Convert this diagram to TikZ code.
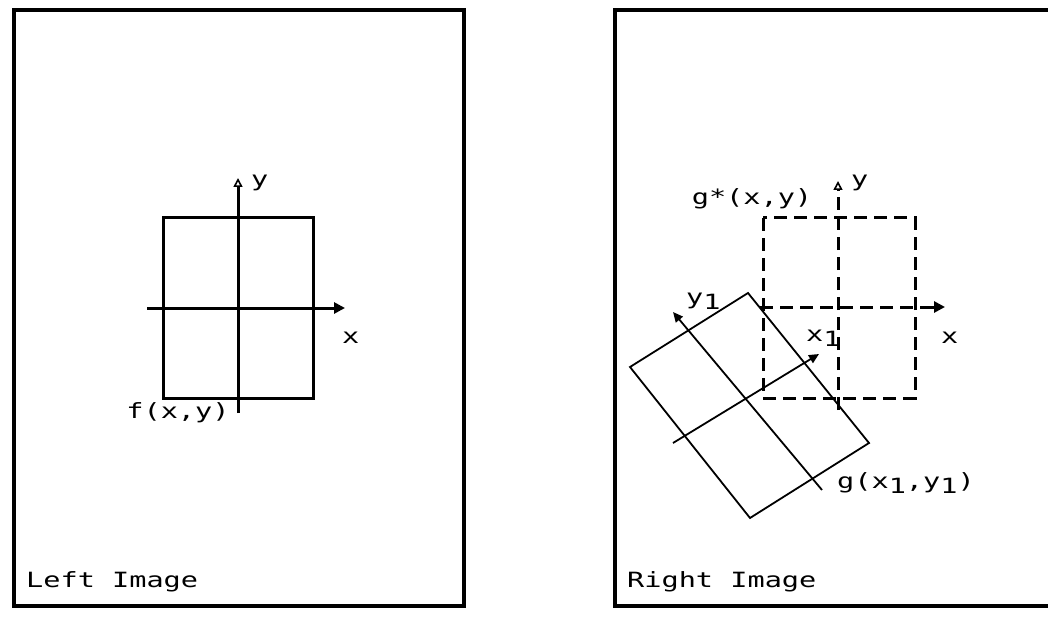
\documentclass[tikz,border=0pt]{standalone}
\usepackage{fontspec}
\newfontfamily\pix[FakeStretch=1.36]{DejaVu Sans Mono}
\usetikzlibrary{arrows.meta}
\newcommand\lowsub[1]{\raisebox{-5pt}{#1}}
\begin{document}
\begin{tikzpicture}[x=1pt,y=-1pt,
  frame/.style={line width=3.5pt},
  solidline/.style={line width=3pt},
  dashline/.style={line width=3pt, dash pattern=on 13pt off 7pt},
  thinline/.style={line width=1.8pt},
  xarrow/.style={-{Triangle[length=11pt,width=11pt]}},
  yarrow/.style={-{Triangle[open,length=9pt,width=9pt,line width=1.6pt]}},
  rarrow/.style={-{Triangle[length=10pt,width=9pt]}},
  lbl/.style={font=\pix\fontsize{21}{21}\selectfont, inner sep=0pt}]
\useasboundingbox (0,0) rectangle (1048,636);
\begin{scope}
\clip (0,0) rectangle (1048,636);
% frames
\draw[frame] (14,10) rectangle (464,606);
\draw[frame] (615,10) rectangle (1070,606);
\node[lbl, anchor=base west] (ltitle) at (26,587) {Left Image};
\node[lbl, anchor=base west] (rtitle) at (627,587) {Right Image};

% left figure
\draw[solidline] (163,218) rectangle (313,398);
\coordinate (lxs) at (147,308);
\coordinate (lxe) at (345,308);
\coordinate (lys) at (238,413);
\coordinate (lye) at (238,178);
\draw[solidline, xarrow] (lxs) -- (lxe);
\draw[solidline, yarrow] (lys) -- (lye);
\node[lbl, anchor=base west] (ly) at (251,187) {y};
\node[lbl, anchor=base west] (lx) at (342,343) {x};
\node[lbl, anchor=base] (f) at (178,418) {f(x,y)};

% right figure: dashed reference frame
\draw[dashline] (763,218) rectangle (915,398);
\coordinate (rxs) at (760,307);
\coordinate (rxm) at (927,307);
\coordinate (rxe) at (945,307);
\coordinate (rys) at (838,410);
\coordinate (rye) at (838,181);
\draw[dashline] (rxs) -- (rxm);
\draw[solidline, xarrow] (rxm) -- (rxe);
\draw[dashline, yarrow] (rys) -- (rye);
\node[lbl, anchor=base west] (ry) at (851,187) {y};
\node[lbl, anchor=base west] (rx) at (941,343) {x};
\node[lbl, anchor=base] (gs) at (752,205) {g*(x,y)};

% rotated frame
\coordinate (T) at (748,293);
\coordinate (L) at (630,367);
\coordinate (B) at (750,518);
\coordinate (R) at (869,443);
\draw[thinline] (T) -- (L) -- (B) -- (R) -- cycle;
\coordinate (x1s) at (673,443);
\coordinate (x1e) at (819,354);
\coordinate (y1s) at (822,490);
\coordinate (y1e) at (673,312);
\draw[thinline, rarrow] (x1s) -- (x1e);
\draw[thinline, rarrow] (y1s) -- (y1e);
\node[lbl, anchor=base west] (y1) at (686,304) {y\lowsub{1}};
\node[lbl, anchor=base west] (x1) at (806,341) {x\lowsub{1}};
\node[lbl, anchor=base west] (g) at (837,488) {g(x\lowsub{1},y\lowsub{1})};
\end{scope}
\end{tikzpicture}
\end{document}
